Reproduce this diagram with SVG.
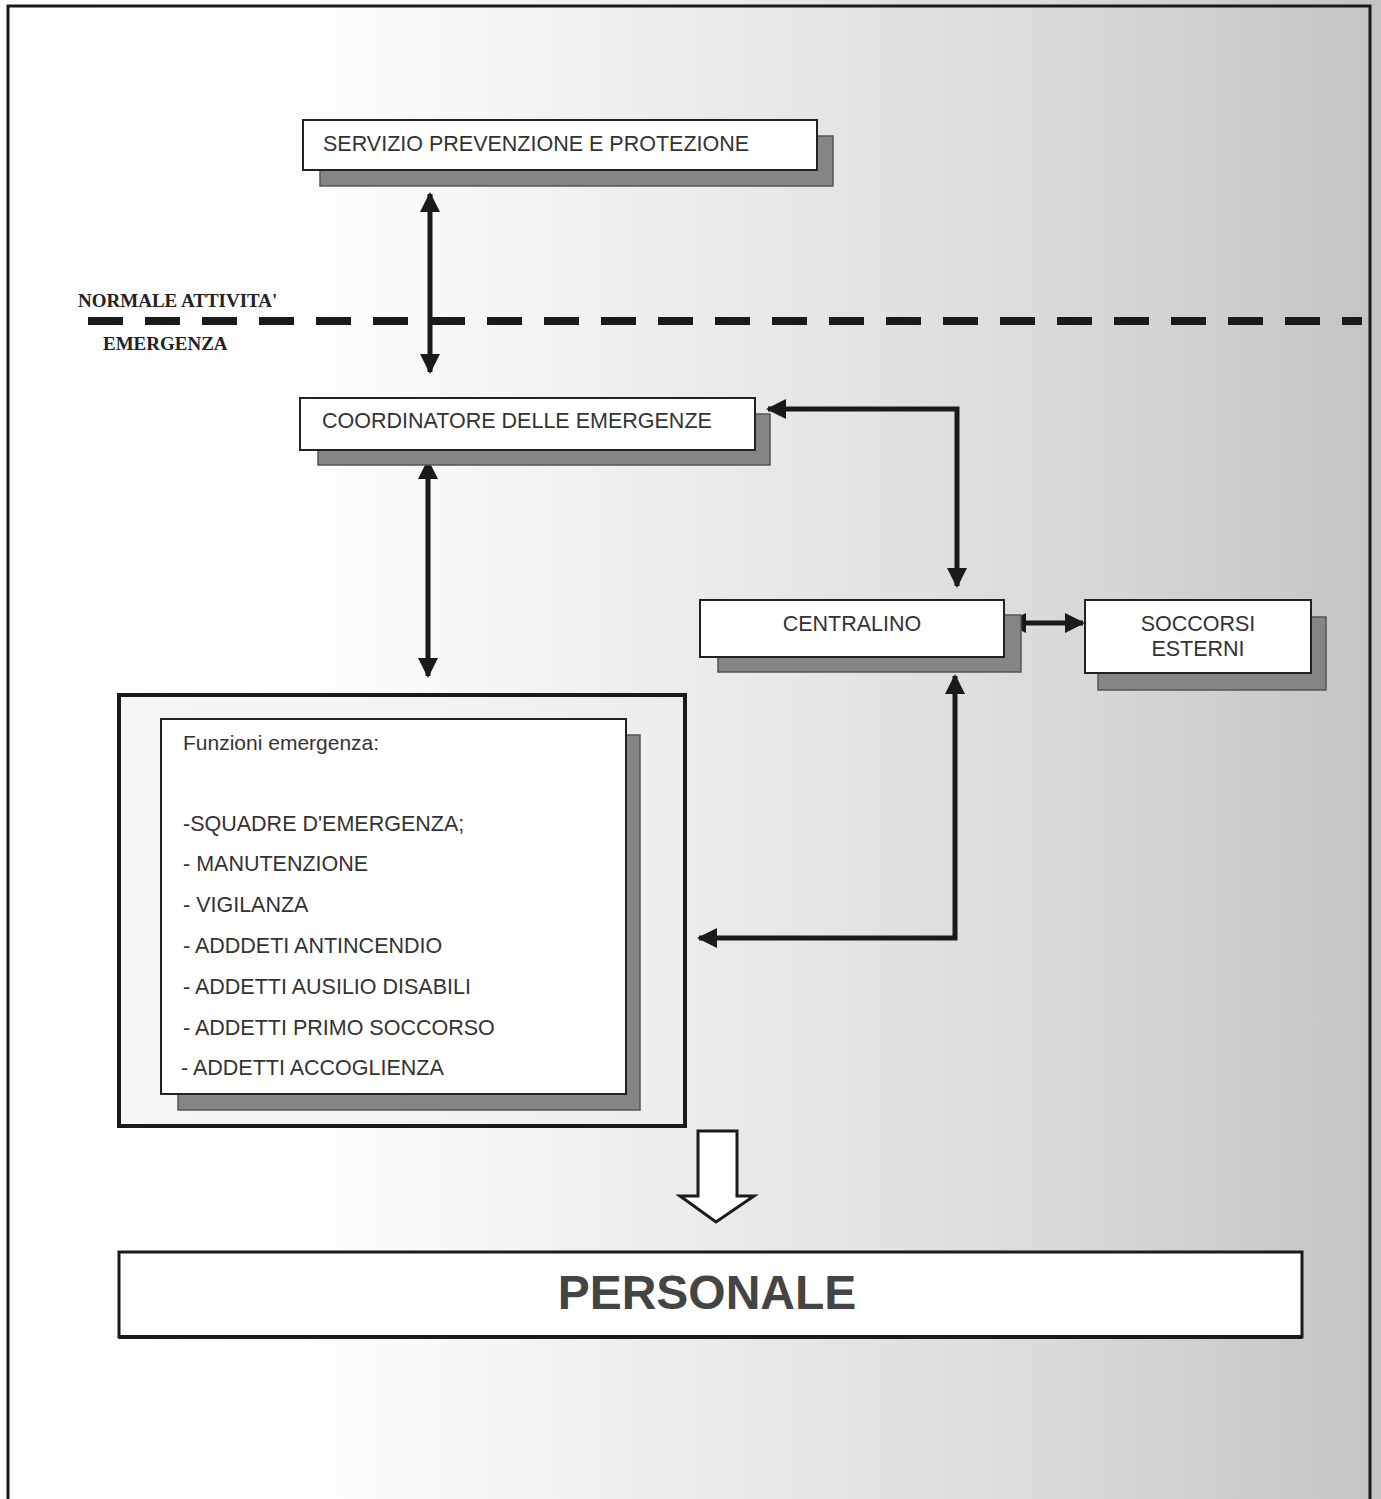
<svg xmlns="http://www.w3.org/2000/svg" width="1381" height="1499" viewBox="0 0 1381 1499">
<defs>
<linearGradient id="bg" x1="0" y1="0" x2="1381" y2="0" gradientUnits="userSpaceOnUse">
<stop offset="0" stop-color="#ffffff"/>
<stop offset="0.25" stop-color="#fcfcfc"/>
<stop offset="0.5" stop-color="#ececec"/>
<stop offset="0.75" stop-color="#dbdbdb"/>
<stop offset="1" stop-color="#c4c4c4"/>
</linearGradient>
<marker id="ah" viewBox="0 0 10 10" refX="9" refY="5" markerWidth="4" markerHeight="4" orient="auto-start-reverse" markerUnits="strokeWidth">
<path d="M0,0 L10,5 L0,10 z" fill="#1a1a1a"/>
</marker>
<style>
.box{fill:#ffffff;stroke:#222;stroke-width:2}
.shadow{fill:#858585;stroke:#555;stroke-width:1.5}
.t{font-family:"Liberation Sans",Arial,sans-serif;font-size:21.5px;fill:#333}
.ts{font-family:"Liberation Sans",Arial,sans-serif;font-size:21px;fill:#333}
.serif{font-family:"Liberation Serif","Times New Roman",serif;font-weight:bold;font-size:19px;fill:#222}
.conn{fill:none;stroke:#1a1a1a;stroke-width:5;marker-start:url(#ah);marker-end:url(#ah)}
</style>
</defs>
<rect x="0" y="0" width="1381" height="1499" fill="url(#bg)"/>
<path d="M8,1499 V6 H1370 V1499" fill="none" stroke="#1a1a1a" stroke-width="3"/>

<g id="divider">
<line x1="88" y1="321" x2="1362" y2="321" stroke="#1a1a1a" stroke-width="8" stroke-dasharray="35 22"/>
<text class="serif" x="78" y="307">NORMALE ATTIVITA'</text>
<text class="serif" x="103" y="350">EMERGENZA</text>
</g>

<g id="connectors">
<line class="conn" x1="430" y1="194" x2="430" y2="372"/>
<line class="conn" x1="428" y1="461" x2="428" y2="676"/>
<polyline class="conn" points="768,409 957,409 957,586"/>
<polyline class="conn" points="1008,623 1083,623"/>
<polyline class="conn" points="955,676 955,938 699,938"/>
</g>

<g id="node-spp">
<rect class="shadow" x="320" y="136" width="513" height="50"/>
<rect class="box" x="303" y="120" width="514" height="50"/>
<text class="t" x="323" y="151">SERVIZIO PREVENZIONE E PROTEZIONE</text>
</g>

<g id="node-coordinatore">
<rect class="shadow" x="318" y="414" width="452" height="51"/>
<rect class="box" x="300" y="398" width="455" height="52"/>
<text class="t" x="322" y="428">COORDINATORE DELLE EMERGENZE</text>
</g>

<g id="node-centralino">
<rect class="shadow" x="718" y="615" width="303" height="57"/>
<rect class="box" x="700" y="600" width="304" height="57"/>
<text class="t" x="852" y="631" text-anchor="middle">CENTRALINO</text>
</g>

<g id="node-soccorsi">
<rect class="shadow" x="1098" y="617" width="228" height="73"/>
<rect class="box" x="1085" y="600" width="226" height="73"/>
<text class="t" x="1198" y="631" text-anchor="middle">SOCCORSI</text>
<text class="t" x="1198" y="656" text-anchor="middle">ESTERNI</text>
</g>

<g id="node-funzioni">
<rect x="119" y="695" width="566" height="431" fill="#eeeeee" fill-opacity="0.5" stroke="#1a1a1a" stroke-width="4"/>
<rect class="shadow" x="178" y="735" width="462" height="375"/>
<rect class="box" x="161" y="719" width="465" height="375"/>
<text class="ts" x="183" y="750">Funzioni emergenza:</text>
<text class="t" x="183" y="831">-SQUADRE D'EMERGENZA;</text>
<text class="t" x="183" y="871">- MANUTENZIONE</text>
<text class="t" x="183" y="912">- VIGILANZA</text>
<text class="t" x="183" y="953">- ADDDETI ANTINCENDIO</text>
<text class="t" x="183" y="994">- ADDETTI AUSILIO DISABILI</text>
<text class="t" x="183" y="1035">- ADDETTI PRIMO SOCCORSO</text>
<text class="t" x="181" y="1075">- ADDETTI ACCOGLIENZA</text>
</g>

<g id="hollow-arrow">
<path d="M698,1131 H737 V1196 H754 L716,1222 L680,1196 H698 Z" fill="#ffffff" stroke="#1a1a1a" stroke-width="3" stroke-linejoin="miter"/>
</g>

<g id="node-personale">
<rect x="119" y="1252" width="1183" height="85" fill="#ffffff" stroke="#1a1a1a" stroke-width="3"/>
<line x1="119" y1="1337" x2="1302" y2="1337" stroke="#1a1a1a" stroke-width="4"/>
<text x="707" y="1309" text-anchor="middle" font-family="'Liberation Sans',Arial,sans-serif" font-weight="bold" font-size="48" fill="#444">PERSONALE</text>
</g>
</svg>
